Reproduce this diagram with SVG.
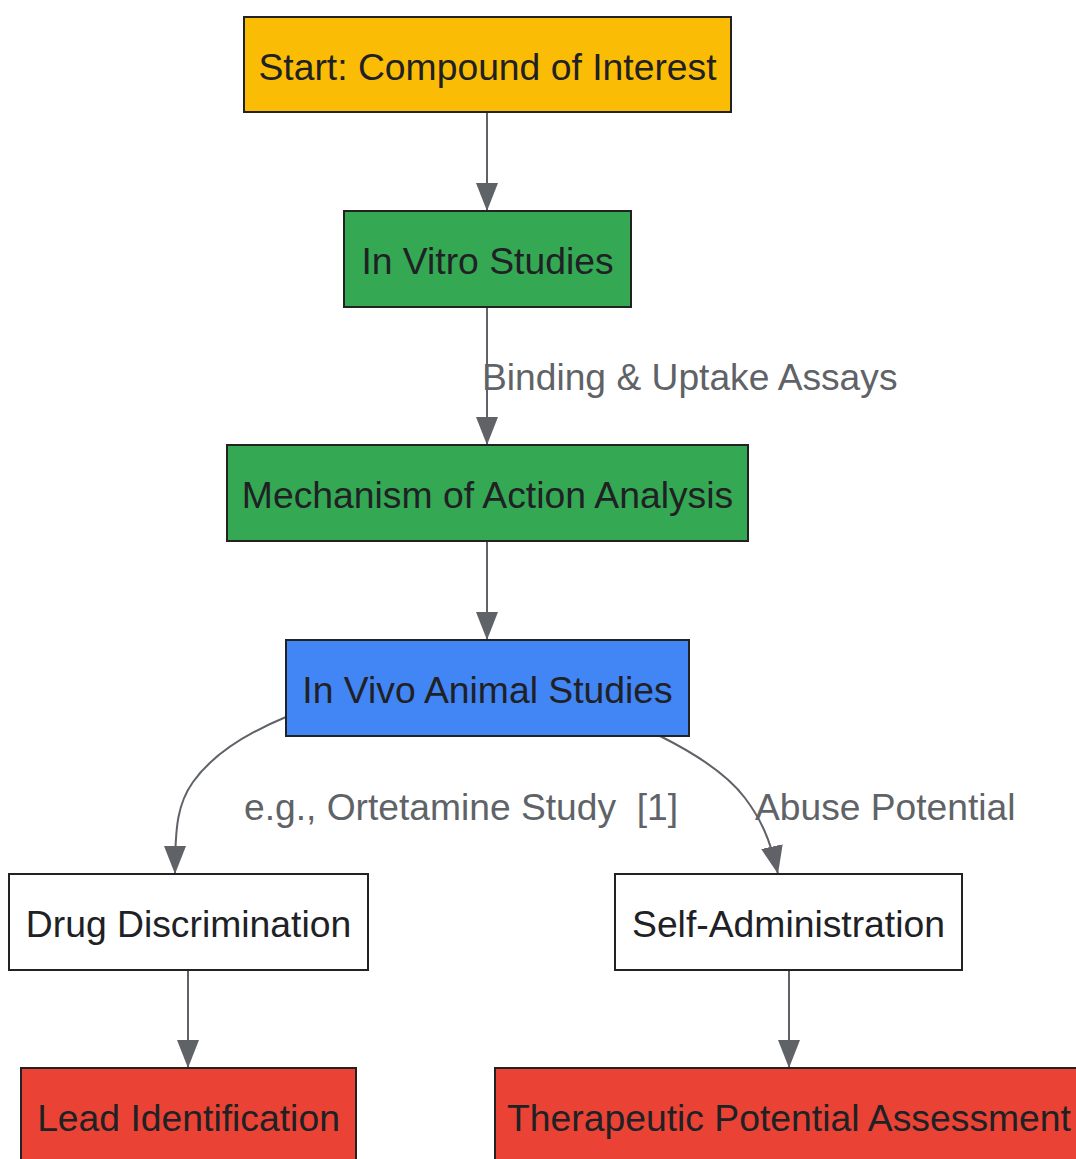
<svg xmlns="http://www.w3.org/2000/svg" width="1076" height="1159" viewBox="0 0 1076 1159">
<style>
.node rect{stroke:#222222;stroke-width:2}
.node text{font-family:"Liberation Sans",Arial,sans-serif;font-size:37.3px;fill:#202124;text-anchor:middle}
.edge{fill:none;stroke:#5f6368;stroke-width:2}
.lbl{font-family:"Liberation Sans",Arial,sans-serif;font-size:37.2px;fill:#5f6368}
</style>
<defs>
<marker id="arr" markerUnits="userSpaceOnUse" viewBox="0 0 28 22" markerWidth="28" markerHeight="22" refX="28" refY="11" orient="auto">
<path d="M0,0 L28,11 L0,22 z" fill="#5f6368"/>
</marker>
</defs>
<rect width="1076" height="1159" fill="#ffffff"/>
<g id="connectors">
<path class="edge" d="M487,112 L487,211" marker-end="url(#arr)"/>
<path class="edge" d="M487,307 L487,445" marker-end="url(#arr)"/>
<path class="edge" d="M487,541 L487,640" marker-end="url(#arr)"/>
<path class="edge" d="M286,717 C240,736 210,758 193,782 C178,803 175,825 175,874" marker-end="url(#arr)"/>
<path class="edge" d="M660,736 C700,756 730,778 745,798 C760,818 770,838 778,874" marker-end="url(#arr)"/>
<path class="edge" d="M188,970 L188,1068" marker-end="url(#arr)"/>
<path class="edge" d="M789,970 L789,1068" marker-end="url(#arr)"/>
<text class="lbl" x="482" y="390">Binding &amp; Uptake Assays</text>
<text class="lbl" x="244" y="820" xml:space="preserve">e.g., Ortetamine Study  [1]</text>
<text class="lbl" x="755" y="820">Abuse Potential</text>
</g>
<g id="start" class="node"><rect x="244" y="17" width="487" height="95" fill="#FBBC05"/><text x="487.5" y="80">Start: Compound of Interest</text></g>
<g id="invitro" class="node"><rect x="344" y="211" width="287" height="96" fill="#34A853"/><text x="487.5" y="274">In Vitro Studies</text></g>
<g id="moa" class="node"><rect x="227" y="445" width="521" height="96" fill="#34A853"/><text x="487.5" y="508">Mechanism of Action Analysis</text></g>
<g id="invivo" class="node"><rect x="286" y="640" width="403" height="96" fill="#4285F4"/><text x="487.5" y="703">In Vivo Animal Studies</text></g>
<g id="drugdisc" class="node"><rect x="9" y="874" width="359" height="96" fill="#ffffff"/><text x="188.5" y="937">Drug Discrimination</text></g>
<g id="selfadmin" class="node"><rect x="615" y="874" width="347" height="96" fill="#ffffff"/><text x="788.5" y="937">Self-Administration</text></g>
<g id="lead" class="node"><rect x="21" y="1068" width="335" height="96" fill="#EA4335"/><text x="188.5" y="1131">Lead Identification</text></g>
<g id="therapeutic" class="node"><rect x="495" y="1068" width="588" height="96" fill="#EA4335"/><text x="789" y="1131">Therapeutic Potential Assessment</text></g>
</svg>
